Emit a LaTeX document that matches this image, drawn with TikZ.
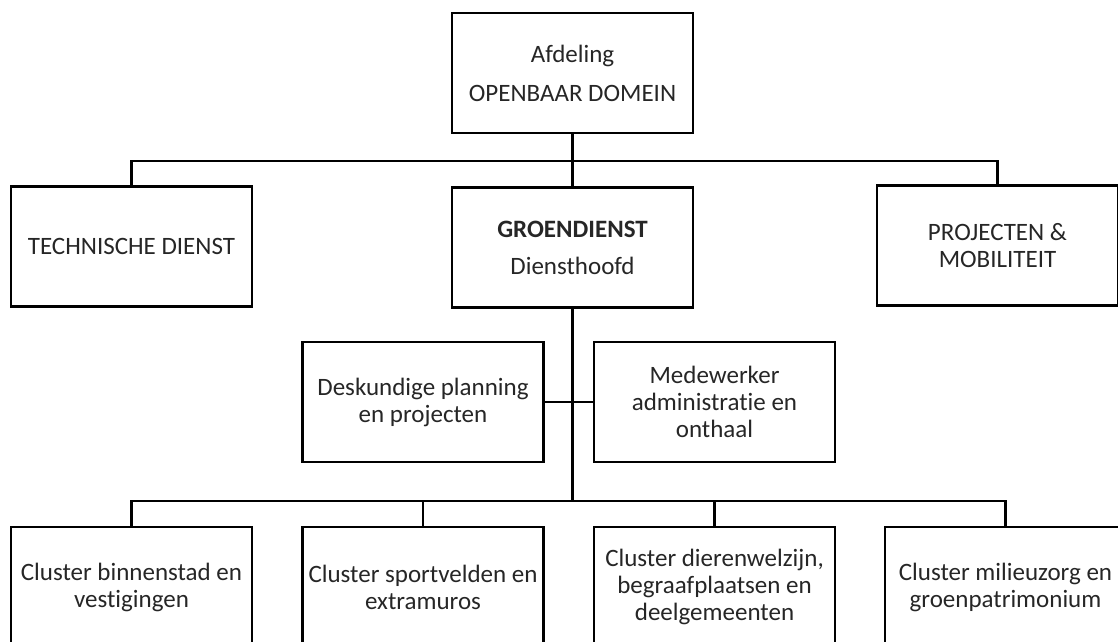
\documentclass[tikz,border=0pt]{standalone}
\usepackage{fontspec}
\setmainfont{Carlito}[Ligatures=NoCommon]
\begin{document}
\begin{tikzpicture}[x=1pt, y=-1pt,
    vak/.style={draw, line width=2.5pt, minimum width=241pt, minimum height=120pt,
        align=center, inner sep=2pt, text=black!85,
        font=\fontsize{25}{27}\selectfont},
    lijn/.style={line width=2.5pt}]
    \useasboundingbox (0, 0) rectangle (1118, 641);
    \clip (0, 0) rectangle (1118, 641);

    % afdeling en diensten
    \node[vak] (afdeling) at (572.5, 73) {Afdeling\\[12pt]OPENBAAR DOMEIN};
    \node[vak] (techniek) at (131.5, 246.5) {TECHNISCHE DIENST};
    \node[vak] (groen) at (572.5, 247.5) {\textbf{GROENDIENST}\\[10pt]Diensthoofd};
    \node[vak] (projecten) at (997.5, 245.5) {PROJECTEN \&\\MOBILITEIT};

    % staf
    \node[vak] (planning) at (423, 402) {Deskundige planning\\en projecten};
    \node[vak] (onthaal) at (714.5, 402) {Medewerker\\administratie en\\onthaal};

    % clusters
    \node[vak] (binnenstad) at (131.5, 587) {Cluster binnenstad en\\vestigingen};
    \node[vak] (sport) at (423, 587) {Cluster sportvelden en\\extramuros};
    \node[vak] (dieren) at (714.5, 587) {Cluster dierenwelzijn,\\begraafplaatsen en\\deelgemeenten};
    \node[vak] (milieu) at (1005.5, 587) {Cluster milieuzorg en\\groenpatrimonium};

    % verbindingen
    \coordinate (bus1) at (572.5, 161);
    \coordinate (bus2) at (572.5, 501);
    \draw[lijn] (afdeling.south)--(groen.north);
    \draw[lijn] (techniek.north) |- (bus1) -| (projecten.north);
    \draw[lijn] (groen.south)--(bus2);
    \draw[lijn] (planning.east)--(onthaal.west);
    \draw[lijn] (binnenstad.north) |- (bus2) -| (milieu.north);
    \draw[lijn] (sport.north) |- (bus2);
    \draw[lijn] (dieren.north) |- (bus2);

\end{tikzpicture}
\end{document}
